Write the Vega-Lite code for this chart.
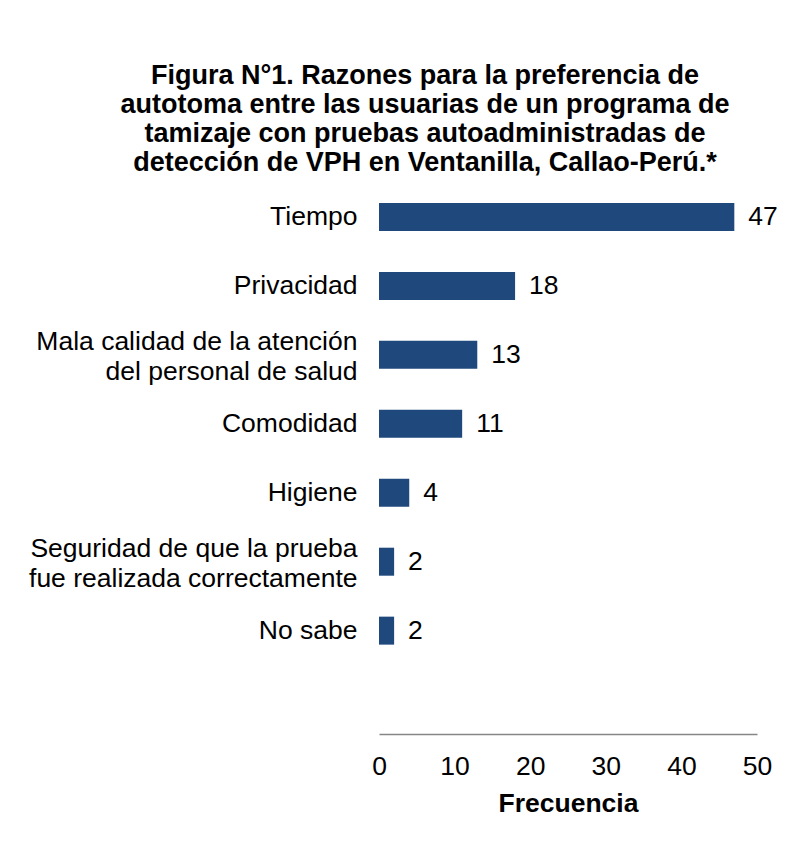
{
  "$schema": "https://vega.github.io/schema/vega-lite/v6.json",
  "autosize": {"type": "none"},
  "padding": {"left": 379, "top": 182, "right": 32, "bottom": 111},
  "width": 378,
  "height": 552,
  "background": "white",
  "title": {
    "text": ["Figura N°1. Razones para la preferencia de", "autotoma entre las usuarias de un programa de", "tamizaje con pruebas autoadministradas de", "detección de VPH en Ventanilla, Callao-Perú.*"],
    "font": "Liberation Sans",
    "fontSize": 27,
    "fontWeight": "bold",
    "lineHeight": 29,
    "color": "black",
    "anchor": "middle",
    "frame": "group",
    "dx": -143,
    "offset": 5
  },
  "data": {
    "values": [
      {"razon": "Tiempo", "frecuencia": 47},
      {"razon": "Privacidad", "frecuencia": 18},
      {"razon": "Mala calidad de la atención|del personal de salud", "frecuencia": 13},
      {"razon": "Comodidad", "frecuencia": 11},
      {"razon": "Higiene", "frecuencia": 4},
      {"razon": "Seguridad de que la prueba|fue realizada correctamente", "frecuencia": 2},
      {"razon": "No sabe", "frecuencia": 2}
    ]
  },
  "encoding": {
    "y": {
      "field": "razon",
      "type": "nominal",
      "sort": null,
      "scale": {"paddingInner": 0.594, "paddingOuter": 0.8, "align": 0.19},
      "axis": {
        "title": null,
        "domain": false,
        "ticks": false,
        "labelPadding": 22,
        "labelFont": "Liberation Sans",
        "labelFontSize": 26.5,
        "labelColor": "black",
        "labelLimit": 400,
        "labelLineHeight": 30,
        "labelOffset": {"condition": {"test": "indexof(datum.value, '|') >= 0", "value": -13}, "value": 0},
        "labelExpr": "split(datum.label, '|')"
      }
    },
    "x": {
      "field": "frecuencia",
      "type": "quantitative",
      "scale": {"domain": [0, 50], "nice": false},
      "axis": {
        "title": "Frecuencia",
        "titleFont": "Liberation Sans",
        "titleFontSize": 26.5,
        "titleFontWeight": "bold",
        "titleColor": "black",
        "titlePadding": 11,
        "values": [0, 10, 20, 30, 40, 50],
        "grid": false,
        "ticks": false,
        "domainColor": "#868686",
        "domainWidth": 1.5,
        "labelPadding": 19,
        "labelFont": "Liberation Sans",
        "labelFontSize": 26.5,
        "labelColor": "black",
        "labelFlush": false
      }
    }
  },
  "layer": [
    {"mark": {"type": "bar", "color": "#1F497D"}},
    {
      "mark": {"type": "text", "align": "left", "baseline": "middle", "dx": 14, "font": "Liberation Sans", "fontSize": 26.5, "color": "black"},
      "encoding": {"text": {"field": "frecuencia", "type": "quantitative"}}
    }
  ],
  "config": {"view": {"stroke": null}}
}
